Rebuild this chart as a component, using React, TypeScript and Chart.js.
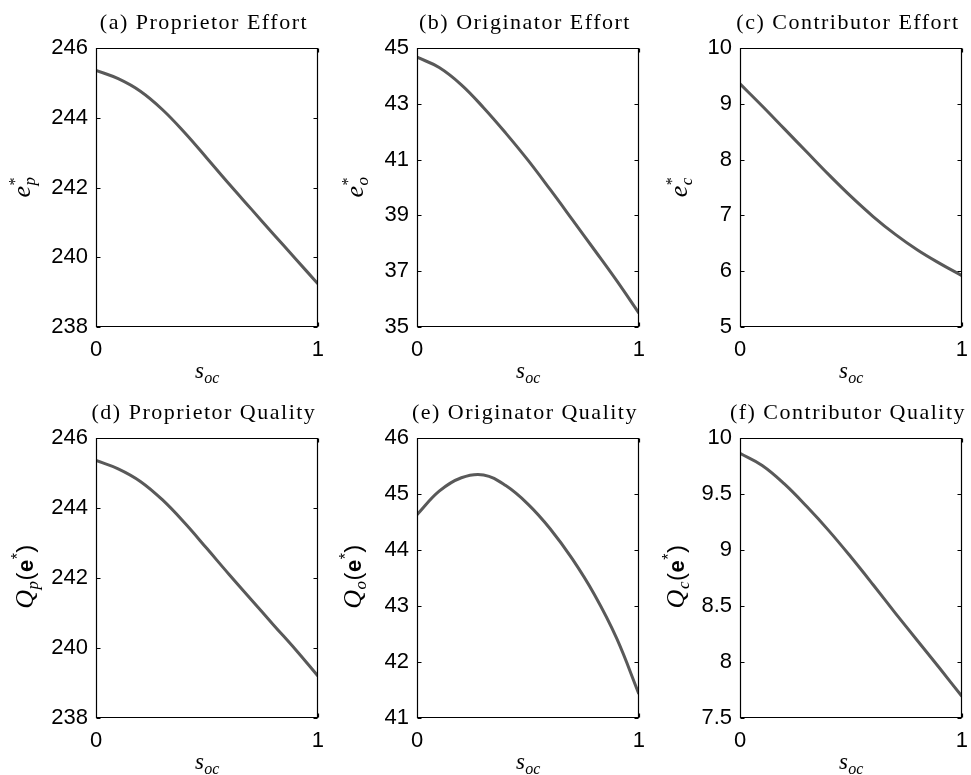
import React, { useEffect, useRef } from 'react';
import { Chart, registerables } from 'chart.js';

Chart.register(...registerables);

// ---- data ----
const sOc = [0, 0.1, 0.2, 0.3, 0.4, 0.5, 0.6, 0.7, 0.8, 0.9, 1];
const xTicks = [0, 1];

const proprietorEffort = [245.36, 245.12, 244.76, 244.23, 243.57, 242.84, 242.1, 241.38, 240.66, 239.95, 239.24];
const originatorEffort = [44.67, 44.3, 43.68, 42.86, 41.95, 40.98, 39.93, 38.85, 37.76, 36.66, 35.5];
const contributorEffort = [9.357, 8.96, 8.55, 8.14, 7.73, 7.34, 6.98, 6.66, 6.38, 6.14, 5.92];
const proprietorQuality = [245.36, 245.12, 244.76, 244.23, 243.57, 242.84, 242.1, 241.38, 240.66, 239.95, 239.2];
const originatorQuality = [44.63, 45.05, 45.29, 45.34, 45.15, 44.82, 44.38, 43.84, 43.2, 42.42, 41.43];
const contributorQuality = [9.863, 9.755, 9.59, 9.39, 9.173, 8.937, 8.69, 8.437, 8.19, 7.944, 7.693];

const proprietorTicks = [238, 240, 242, 244, 246];
const originatorEffortTicks = [35, 37, 39, 41, 43, 45];
const contributorEffortTicks = [5, 6, 7, 8, 9, 10];
const originatorQualityTicks = [41, 42, 43, 44, 45, 46];
const contributorQualityTicks = [7.5, 8, 8.5, 9, 9.5, 10];

const panelTitles = [
  '(a) Proprietor Effort',
  '(b) Originator Effort',
  '(c) Contributor Effort',
  '(d) Proprietor Quality',
  '(e) Originator Quality',
  '(f) Contributor Quality',
];
const subscripts = ['p', 'o', 'c', 'p', 'o', 'c'];

// ---- styles ----
const SERIF = '"Liberation Serif", "Times New Roman", serif';
const SANS = '"Liberation Sans", Arial, sans-serif';
const MATH_IT = `italic 26px ${SERIF}`;
const SUB_IT = `italic 17px ${SERIF}`;
const SUP = `16px ${SERIF}`;
const LINE_COLOR = '#595959';

type Run = { t: string; f: string; dy: number } | { stack: { t: string; f: string; dy: number }[] };

function effortLabel(sub: string): Run[] {
  return [
    { t: 'e', f: MATH_IT, dy: 0 },
    { stack: [{ t: '*', f: SUP, dy: -10 }, { t: sub, f: SUB_IT, dy: 5 }] },
  ];
}
function qualityLabel(sub: string): Run[] {
  return [
    { t: 'Q', f: MATH_IT, dy: 0 },
    { t: sub, f: SUB_IT, dy: 5 },
    { t: '(', f: `24px ${SANS}`, dy: 0 },
    { t: 'e', f: `bold 22px ${SANS}`, dy: 0 },
    { t: '*', f: `16px ${SANS}`, dy: -10 },
    { t: ')', f: `24px ${SANS}`, dy: 0 },
  ];
}

function runWidth(ctx: CanvasRenderingContext2D, r: Run): number {
  if ('stack' in r) {
    return Math.max(...r.stack.map((s) => { ctx.font = s.f; return ctx.measureText(s.t).width; }));
  }
  ctx.font = r.f;
  return ctx.measureText(r.t).width;
}

function drawRuns(ctx: CanvasRenderingContext2D, runs: Run[], cx: number, by: number, rotate: boolean) {
  ctx.save();
  ctx.translate(cx, by);
  if (rotate) ctx.rotate(-Math.PI / 2);
  ctx.textAlign = 'left';
  ctx.textBaseline = 'alphabetic';
  ctx.fillStyle = '#000';
  const widths = runs.map((r) => runWidth(ctx, r));
  const total = widths.reduce((a, b) => a + b, 0);
  let x = -total / 2;
  runs.forEach((r, i) => {
    const parts = 'stack' in r ? r.stack : [r];
    parts.forEach((p) => {
      ctx.font = p.f;
      ctx.fillText(p.t, x, p.dy);
    });
    x += widths[i] + 0.5;
  });
  ctx.restore();
}

const Y_AXIS_W = 96;
const TOP_PAD = 48;
const BOTTOM_H = 62;
const RIGHT_PAD = 14;

const colLeft = [96, 417, 740];
const colWidth = [224, 224, 224];
const rowTop = [48, 438];
const rowHeight = [279, 280];
const yLabelOffset = [66, 54, 53, 63, 56, 56];

const series = [proprietorEffort, originatorEffort, contributorEffort, proprietorQuality, originatorQuality, contributorQuality];
const tickSets = [proprietorTicks, originatorEffortTicks, contributorEffortTicks, proprietorTicks, originatorQualityTicks, contributorQualityTicks];

function Panel({ idx }: { idx: number }) {
  const ref = useRef<HTMLCanvasElement | null>(null);
  const col = idx % 3;
  const row = Math.floor(idx / 3);
  const W = Y_AXIS_W + colWidth[col] + RIGHT_PAD;
  const H = TOP_PAD + rowHeight[row] + BOTTOM_H;
  const left = colLeft[col] - Y_AXIS_W;
  const top = rowTop[row] - TOP_PAD;

  useEffect(() => {
    if (!ref.current) return;
    const values = series[idx];
    const yt = tickSets[idx];
    const title = panelTitles[idx];
    const sub = subscripts[idx];
    const yRuns = idx < 3 ? effortLabel(sub) : qualityLabel(sub);
    const xRuns: Run[] = [
      { t: 's', f: `italic 23px ${SERIF}`, dy: 0 },
      { t: 'oc', f: `italic 16px ${SERIF}`, dy: 5 },
    ];

    const matlab = {
      id: 'matlabDecor',
      afterDraw(chart: any) {
        const { ctx, chartArea: ca } = chart;
        const ys = chart.scales.y;
        const xs = chart.scales.x;
        ctx.save();
        ctx.strokeStyle = '#000';
        ctx.lineWidth = 1.2;
        const L = Math.round(ca.left) + 0.5;
        const R = Math.round(ca.right) - 0.5;
        const T = Math.round(ca.top) + 0.5;
        const B = Math.round(ca.bottom) - 0.5;
        ctx.beginPath();
        ctx.rect(L, T, R - L, B - T);
        ys.ticks.forEach((t: any) => {
          const py = Math.round(ys.getPixelForValue(t.value)) + 0.5;
          ctx.moveTo(L, py); ctx.lineTo(L + 4, py);
          ctx.moveTo(R, py); ctx.lineTo(R - 4, py);
        });
        xs.ticks.forEach((t: any) => {
          const px = Math.round(xs.getPixelForValue(t.value)) + 0.5;
          ctx.moveTo(px, B); ctx.lineTo(px, B - 4);
          ctx.moveTo(px, T); ctx.lineTo(px, T + 4);
        });
        ctx.stroke();

        // title
        ctx.fillStyle = '#000';
        ctx.font = `22px ${SERIF}`;
        try { (ctx as any).letterSpacing = '1.5px'; } catch (e) {}
        ctx.textAlign = 'center';
        ctx.textBaseline = 'alphabetic';
        ctx.fillText(title, (ca.left + ca.right) / 2 - 3, ca.top - 19);
        try { (ctx as any).letterSpacing = '0px'; } catch (e) {}
        ctx.restore();

        drawRuns(ctx, xRuns, (ca.left + ca.right) / 2, ca.bottom + 51, false);
        drawRuns(ctx, yRuns, ca.left - yLabelOffset[idx], (ca.top + ca.bottom) / 2, true);
      },
    };

    const chart = new Chart(ref.current, {
      type: 'line',
      data: {
        datasets: [
          {
            data: sOc.map((s, i) => ({ x: s, y: values[i] })),
            borderColor: LINE_COLOR,
            borderWidth: 3,
            pointRadius: 0,
            fill: false,
            tension: 0.4,
            cubicInterpolationMode: 'default',
          },
        ],
      },
      options: {
        animation: false,
        responsive: false,
        devicePixelRatio: 1,
        layout: { padding: { left: 0, top: TOP_PAD, right: RIGHT_PAD, bottom: 0 } },
        plugins: { legend: { display: false }, tooltip: { enabled: false }, title: { display: false } },
        events: [],
        scales: {
          x: {
            type: 'linear',
            min: 0,
            max: 1,
            afterBuildTicks: (scale: any) => { scale.ticks = xTicks.map((v) => ({ value: v })); },
            afterFit: (scale: any) => { scale.height = BOTTOM_H; },
            grid: { display: false, drawTicks: false },
            border: { display: false },
            ticks: {
              padding: 10,
              color: '#000',
              font: { family: SANS, size: 22 },
              maxRotation: 0,
              autoSkip: false,
              callback: (v: any) => String(v),
            },
          },
          y: {
            type: 'linear',
            min: yt[0],
            max: yt[yt.length - 1],
            afterBuildTicks: (scale: any) => { scale.ticks = yt.map((v) => ({ value: v })); },
            afterFit: (scale: any) => { scale.width = Y_AXIS_W; },
            grid: { display: false, drawTicks: false },
            border: { display: false },
            ticks: {
              padding: 8,
              color: '#000',
              font: { family: SANS, size: 22 },
              autoSkip: false,
              callback: (v: any) => String(v),
            },
          },
        },
      },
      plugins: [matlab],
    } as any);
    return () => chart.destroy();
  }, [idx]);

  return (
    <canvas
      ref={ref}
      width={W}
      height={H}
      style={{ position: 'absolute', left, top, width: W, height: H }}
    />
  );
}

export default function App() {
  return (
    <div style={{ position: 'absolute', left: 0, top: 0, width: 971, height: 775, background: '#fff', overflow: 'hidden' }}>
      {[0, 1, 2, 3, 4, 5].map((i) => (
        <Panel key={i} idx={i} />
      ))}
    </div>
  );
}
